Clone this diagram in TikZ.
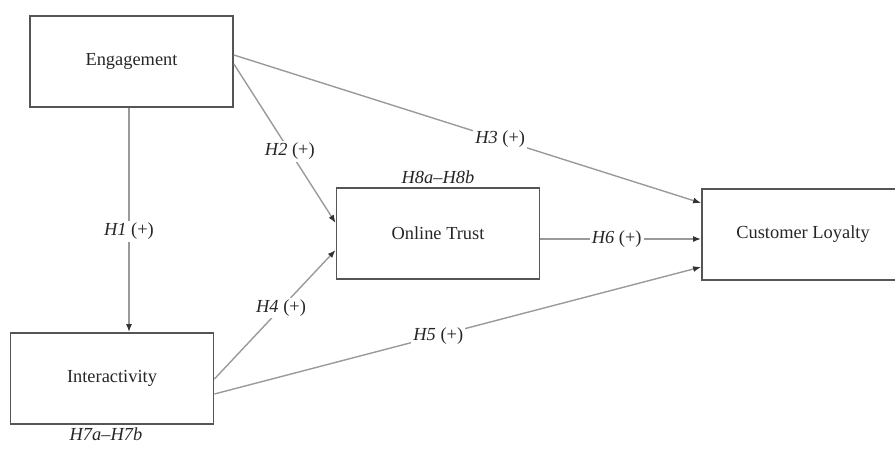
\documentclass[tikz,border=0pt]{standalone}
\usepackage{fontspec}
\setmainfont{Liberation Serif}
\usepackage{xcolor}
\usetikzlibrary{arrows.meta,positioning}
\definecolor{boxgray}{HTML}{555555}
\definecolor{linegray}{HTML}{9A9A9A}
\tikzstyle{construct} = [draw=boxgray, line width=1.8pt, minimum width=203pt, minimum height=91pt, font=\fontsize{18.4}{22}\selectfont, text=black!85]
\tikzstyle{path} = [draw=linegray, line width=1.4pt, -{Latex[length=8pt,width=6pt,color=black!80]}]
\tikzstyle{hyp} = [fill=white, inner sep=2pt, font=\fontsize{18.4}{22}\selectfont, text=black!85]

\begin{document}
\begin{tikzpicture}[x=1pt, y=-1pt]
            \useasboundingbox (0,0) rectangle (895,448);
            \clip (0,0) rectangle (895,448);
            \node[construct] (eng) at (131.5,61.5) {Engagement};
            \node[construct] (trust) at (438,233.5) {Online Trust};
            \node[construct] (inter) at (112,378.5) {Interactivity};
            \node[construct, minimum width=202pt] (loyal) at (803,234.5) {Customer Loyalty};
            \node[hyp, above=1pt of trust] (h8) {\textit{H8a}--\textit{H8b}};
            \node[hyp, below=1pt of inter, xshift=-6pt] (h7) {\textit{H7a}--\textit{H7b}};
            
            \draw[path] ([xshift=-2.5pt]eng.south) -- node[hyp, pos=0.55]{\textit{H1} (+)} ([xshift=17pt]inter.north);
            \draw[path] ([yshift=-2.5pt]eng.east) -- node[hyp, pos=0.55]{\textit{H2} (+)} ([yshift=10.5pt]trust.west);
            \draw[path] ([yshift=6.5pt]eng.east) -- node[hyp, pos=0.57]{\textit{H3} (+)} ([yshift=31.5pt]loyal.west);
            \draw[path] ([yshift=-0.5pt]inter.east) -- node[hyp, pos=0.55]{\textit{H4} (+)} ([yshift=-16.5pt]trust.west);
            \draw[path] ([yshift=-15.5pt]inter.east) -- node[hyp, pos=0.46]{\textit{H5} (+)} ([yshift=-32.5pt]loyal.west);
            \draw[path] ([yshift=-5.5pt]trust.east) -- node[hyp, pos=0.475]{\textit{H6} (+)} ([yshift=-4.5pt]loyal.west);
        \end{tikzpicture}
\end{document}
